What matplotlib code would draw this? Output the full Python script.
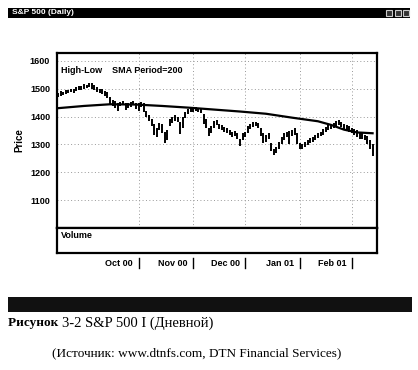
import matplotlib.pyplot as plt
import numpy as np
from matplotlib.patches import Rectangle

# daily high / low of the S&P 500, trading-day index 0 = mid-August 2000
highs = [1485, 1490, 1488, 1495, 1497, 1500, 1498, 1505, 1510, 1508,
         1515, 1512, 1522, 1520, 1512, 1505, 1500, 1498, 1492, 1488,
         1470, 1458, 1455, 1450, 1452, 1455, 1450, 1448, 1452, 1455,
         1450, 1448, 1452, 1448, 1420, 1405, 1392, 1375, 1360, 1378,
         1375, 1345, 1350, 1390, 1400, 1405, 1398, 1380, 1398, 1415,
         1428, 1432, 1430, 1435, 1432, 1430, 1410, 1390, 1360, 1365,
         1385, 1388, 1375, 1368, 1362, 1358, 1350, 1345, 1348, 1340,
         1320, 1340, 1345, 1365, 1375, 1382, 1380, 1378, 1360, 1340,
         1335, 1340, 1305, 1285, 1290, 1310, 1325, 1340, 1345, 1348,
         1350, 1358, 1340, 1305, 1300, 1310, 1315, 1322, 1328, 1332,
         1340, 1345, 1355, 1362, 1368, 1372, 1378, 1385, 1388, 1382,
         1372, 1368, 1365, 1360, 1355, 1350, 1345, 1340, 1335, 1330,
         1315, 1300]
lows = [1470, 1475, 1478, 1480, 1485, 1488, 1486, 1492, 1495, 1497,
        1500, 1502, 1505, 1500, 1495, 1488, 1485, 1480, 1475, 1468,
        1445, 1438, 1430, 1420, 1438, 1440, 1425, 1430, 1435, 1440,
        1428, 1420, 1435, 1415, 1398, 1385, 1365, 1335, 1325, 1350,
        1340, 1305, 1315, 1365, 1378, 1385, 1380, 1338, 1360, 1395,
        1408, 1415, 1418, 1420, 1418, 1412, 1375, 1360, 1330, 1340,
        1360, 1368, 1355, 1350, 1345, 1340, 1332, 1325, 1330, 1318,
        1295, 1315, 1325, 1340, 1355, 1362, 1365, 1360, 1330, 1305,
        1310, 1318, 1275, 1262, 1268, 1285, 1300, 1315, 1325, 1300,
        1330, 1335, 1300, 1282, 1285, 1290, 1298, 1305, 1310, 1315,
        1322, 1330, 1335, 1345, 1350, 1355, 1360, 1365, 1370, 1362,
        1352, 1350, 1345, 1340, 1335, 1325, 1320, 1318, 1315, 1300,
        1285, 1258]

# 200-day simple moving average, read at a few days
sma_days = [0, 10, 20, 30, 40, 50, 60, 70, 80, 90, 100, 105, 110, 115, 121]
sma_vals = [1430, 1438, 1444, 1443, 1438, 1432, 1425, 1418, 1410, 1396,
            1383, 1370, 1353, 1343, 1340]

month_days = [31, 52, 72, 93, 113]
month_labels = ["Oct 00", "Nov 00", "Dec 00", "Jan 01", "Feb 01"]
price_ticks = [1100, 1200, 1300, 1400, 1500, 1600]

W, H = 418, 370
fig = plt.figure(figsize=(W / 100, H / 100), dpi=100)
fig.patch.set_facecolor("white")

sans = ["Liberation Sans", "DejaVu Sans"]
serif = ["Liberation Serif", "DejaVu Serif"]


def fx(px):
    return px / W


def fy(py):
    return 1 - py / H


# title bar of the chart window
fig.patches.append(Rectangle((fx(8), fy(18)), fx(402), 10 / H, transform=fig.transFigure,
                             facecolor="black", edgecolor="none"))
fig.text(fx(12), fy(13), "S&P 500 (Daily)", color="white", fontsize=6, fontweight="bold",
         family=sans, va="center", ha="left")
for bx in [386, 395, 403]:
    fig.patches.append(Rectangle((fx(bx), fy(16)), fx(6), 6 / H, transform=fig.transFigure,
                                 facecolor="#333333", edgecolor="#cccccc", lw=0.8))

# price panel
ax = fig.add_axes([fx(57), fy(228), fx(320), 175 / H])
days = np.arange(len(highs))
ax.vlines(days, lows, highs, color="black", lw=1.4)
ax.plot(sma_days, sma_vals, color="black", lw=1.6)
ax.set_xlim(-0.4, 122.7)
ax.set_ylim(1000, 1628)
ax.set_yticks(price_ticks)
ax.set_yticklabels([str(v) for v in price_ticks], fontsize=6.5, fontweight="bold", family=sans)
ax.set_xticks(month_days)
ax.set_xticklabels([])
ax.tick_params(axis="both", length=0, pad=5)
ax.grid(True, color="#999999", linestyle=(0, (1, 2.5)), lw=0.7)
ax.set_ylabel("Price", fontsize=7, fontweight="bold", family=sans, labelpad=4)
for s in ax.spines.values():
    s.set_linewidth(1.6)
ax.text(0.012, 0.9, "High-Low    SMA Period=200", transform=ax.transAxes, fontsize=6.5,
        fontweight="bold", family=sans, va="center", ha="left")

# volume panel (empty)
vax = fig.add_axes([fx(57), fy(253), fx(320), 25 / H])
vax.set_xlim(-0.4, 122.7)
vax.set_xticks([])
vax.set_yticks([])
for s in vax.spines.values():
    s.set_linewidth(1.6)
vax.text(0.012, 0.68, "Volume", transform=vax.transAxes, fontsize=6.5, fontweight="bold",
         family=sans, va="center", ha="left")
for m, lab in zip(month_days, month_labels):
    vax.plot([m, m], [-0.2, -0.6], color="black", lw=1.0, clip_on=False,
             transform=vax.get_xaxis_transform())
    vax.annotate(lab, xy=(m, -0.4), xycoords=("data", "axes fraction"), xytext=(-4, 0),
                 textcoords="offset points", ha="right", va="center", fontsize=6.5,
                 fontweight="bold", family=sans)

# dark band below the screenshot
fig.patches.append(Rectangle((fx(8), fy(312)), fx(404), 15 / H, transform=fig.transFigure,
                             facecolor="#111111", edgecolor="none"))

# caption
cap = fig.text(fx(8), fy(323), "Рисунок ", fontsize=9.5, fontweight="bold", family=serif,
               va="center", ha="left")
vax.annotate("3-2 S&P 500 I (Дневной)", xy=(1, 0.5), xycoords=cap, fontsize=10.5,
             family=serif, va="center", ha="left", annotation_clip=False)
fig.text(fx(52), fy(353), "(Источник: www.dtnfs.com, DTN Financial Services)", fontsize=9.5,
         family=serif, va="center", ha="left")

fig.savefig("out.png", dpi=100)
